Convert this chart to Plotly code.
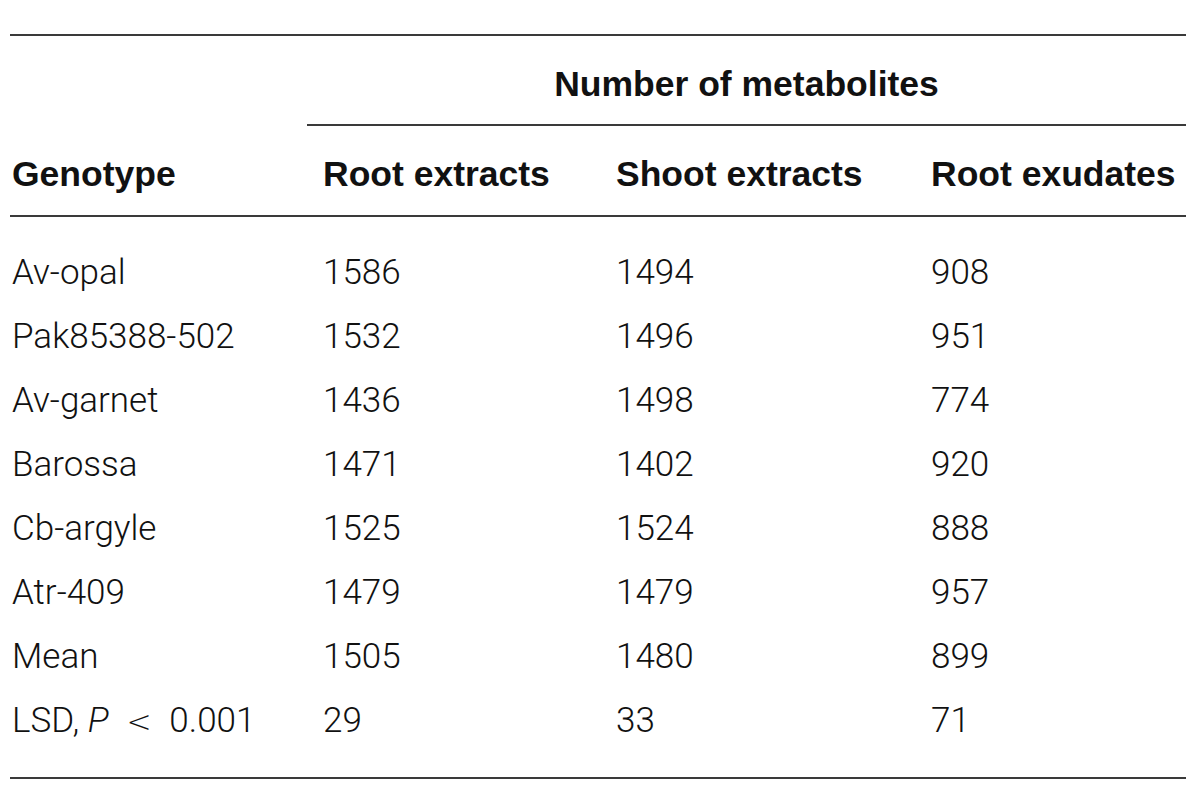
import plotly.graph_objects as go

# table content
genotypes = ["Av-opal", "Pak85388-502", "Av-garnet", "Barossa", "Cb-argyle",
             "Atr-409", "Mean",
             "LSD, <i>P</i>\u2002<span style='font-family:DejaVu Sans;font-size:30px'>&lt;</span>\u20020.001"]
root_extracts = [1586, 1532, 1436, 1471, 1525, 1479, 1505, 29]
shoot_extracts = [1494, 1496, 1498, 1402, 1524, 1479, 1480, 33]
root_exudates = [908, 951, 774, 920, 888, 957, 899, 71]

col_headers = ["Genotype", "Root extracts", "Shoot extracts", "Root exudates"]
span_header = "Number of metabolites"

# layout (page pixels, y grows downward)
W, H = 1200, 793
OFF = 8  # default body margin of the html page
COL_X = [12, 323, 616, 931]
SPAN_X0, SPAN_X1 = 307, 1186
SPAN_Y = 87
HEAD_Y = 177
ROW0_Y = 275
ROW_STEP = 64
RULES = [(10, 1186, 35), (SPAN_X0, SPAN_X1, 125), (10, 1186, 216), (10, 1186, 778)]

FONT = "Roboto, Liberation Sans, Arial, sans-serif"
BFONT = "Liberation Sans, Arial, sans-serif"
TXT = "#111111"
RULE = "#3a3a3a"
FS = 35
BFS = 35.5

row_y = [ROW0_Y + i * ROW_STEP for i in range(len(genotypes))]

fig = go.Figure()

columns = [genotypes, root_extracts, shoot_extracts, root_exudates]
for x, vals in zip(COL_X, columns):
    fig.add_trace(go.Scatter(
        x=[x] * len(vals), y=row_y, text=[str(v) for v in vals],
        mode="text", textposition="middle right",
        textfont=dict(family=FONT, size=FS, color=TXT, weight=300),
        hoverinfo="skip", showlegend=False,
    ))

# header row
fig.add_trace(go.Scatter(
    x=COL_X, y=[HEAD_Y] * len(col_headers),
    text=[f"<b>{h}</b>" for h in col_headers],
    mode="text", textposition="middle right",
    textfont=dict(family=BFONT, size=BFS, color=TXT),
    hoverinfo="skip", showlegend=False,
))

# spanning header
fig.add_trace(go.Scatter(
    x=[(SPAN_X0 + SPAN_X1) / 2], y=[SPAN_Y], text=[f"<b>{span_header}</b>"],
    mode="text", textposition="middle center",
    textfont=dict(family=BFONT, size=BFS, color=TXT),
    hoverinfo="skip", showlegend=False,
))

for x0, x1, y in RULES:
    fig.add_shape(type="line", x0=x0, x1=x1, y0=y, y1=y, xref="x", yref="y",
                  line=dict(color=RULE, width=2))

fig.update_layout(
    width=W, height=H,
    margin=dict(l=0, r=0, t=0, b=0),
    paper_bgcolor="white", plot_bgcolor="white",
    xaxis=dict(range=[OFF, W + OFF], visible=False, fixedrange=True),
    yaxis=dict(range=[H + OFF, OFF], visible=False, fixedrange=True),
)

fig.write_html("out.html", config={"displayModeBar": False})
